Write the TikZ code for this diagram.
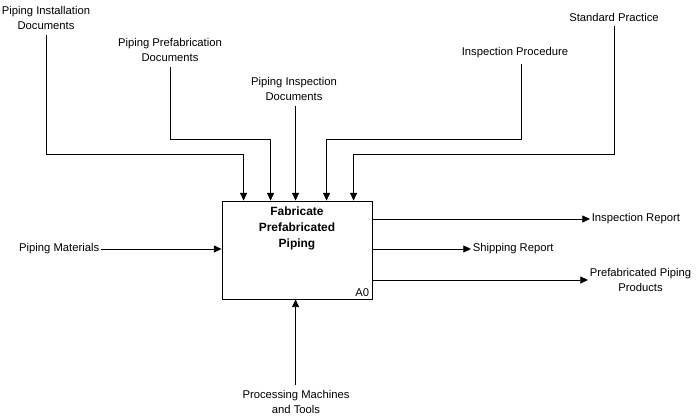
\documentclass[tikz,border=0pt]{standalone}
\usepackage{fontspec}
\setmainfont{Liberation Sans}
\usetikzlibrary{arrows.meta,positioning,calc}

\begin{document}
\begin{tikzpicture}[x=0.025cm, y=0.025cm,
    >={Triangle[length=5.5pt,width=5pt]}, line width=0.6pt,
    lbl/.style={align=center, inner xsep=1pt, inner ysep=3.5pt, font=\fontsize{8}{10.6}\selectfont},
    actbox/.style={draw, minimum width=3.75cm, minimum height=2.45cm, inner sep=0pt},
    acttitle/.style={align=center, inner sep=0pt, font=\fontsize{8.5}{11.3}\selectfont\bfseries}]

    \useasboundingbox (0,0) rectangle (700,419);

    % Activity box A0
    \node[actbox] (fab) at (297,169) {};
    \node[acttitle, below=4pt of fab.north] (fabtitle) {Fabricate\\Prefabricated\\Piping};
    \node[lbl, anchor=south east, inner sep=2pt] (fabid) at (fab.south east) {A0};

    % Controls
    \node[lbl] (inst) at (46,401) {Piping Installation\\Documents};
    \node[lbl] (prefab) at (170,369) {Piping Prefabrication\\Documents};
    \node[lbl] (insp) at (294,330) {Piping Inspection\\Documents};
    \node[lbl] (proc) at (515,366) {Inspection Procedure};
    \node[lbl] (std) at (614,402) {Standard Practice};

    % entry points on top of the box and bend levels
    \coordinate (c1) at ($(fab.north west)+(22,0)$);
    \coordinate (c2) at ($(fab.north west)+(49,0)$);
    \coordinate (c3) at ($(fab.north west)+(74,0)$);
    \coordinate (c4) at ($(fab.north west)+(105,0)$);
    \coordinate (c5) at ($(fab.north west)+(132,0)$);
    \coordinate (lvlA) at (0,265);
    \coordinate (lvlB) at (0,280);

    \draw[->] (inst.south) -- (inst.south |- lvlA) -| (c1);
    \draw[->] (prefab.south) -- (prefab.south |- lvlB) -| (c2);
    \draw[->] (insp.south -| c3) -- (c3);
    \draw[->] ($(proc.south)+(6,0)$) -- ($(proc.south |- lvlB)+(6,0)$) -| (c4);
    \draw[->] (std.south) -- (std.south |- lvlA) -| (c5);

    % Input
    \node[lbl, anchor=east] (mat) at (101,170) {Piping Materials};
    \draw[->] (mat.east) -- (mat.east -| fab.west);

    % Outputs
    \node[lbl, anchor=west] (irep) at (590,200) {Inspection Report};
    \node[lbl, anchor=west] (srep) at (471,170) {Shipping Report};
    \node[lbl, anchor=west] (prod) at (588,139) {Prefabricated Piping\\Products};
    \draw[->] (irep.west -| fab.east) -- (irep.west);
    \draw[->] (srep.west -| fab.east) -- (srep.west);
    \draw[->] (prod.west -| fab.east) -- (prod.west);

    % Mechanism
    \node[lbl] (mach) at (296,17) {Processing Machines\\and Tools};
    \draw[->] (mach.north -| c3) -- (c3 |- fab.south);

\end{tikzpicture}
\end{document}
